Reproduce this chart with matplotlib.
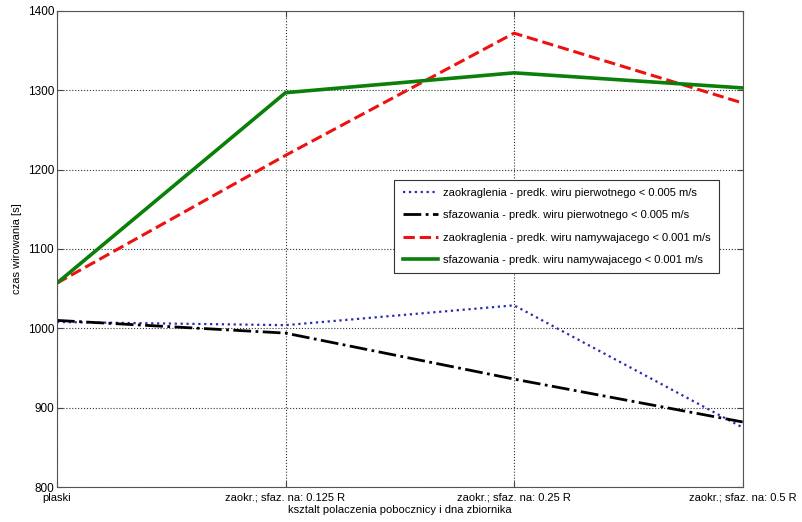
import matplotlib
matplotlib.use('Agg')
import matplotlib.pyplot as plt

# etykiety osi x i wartosci czasu wirowania [s]
shapes = ['plaski', 'zaokr.; sfaz. na: 0.125 R', 'zaokr.; sfaz. na: 0.25 R', 'zaokr.; sfaz. na: 0.5 R']
zaokr_pierwotny = [1008, 1004, 1029, 875]
sfaz_pierwotny = [1010, 994, 936, 882]
zaokr_namyw = [1057, 1218, 1372, 1284]
sfaz_namyw = [1057, 1297, 1322, 1303]

plt.rcParams['font.family'] = ['Liberation Sans', 'DejaVu Sans']
plt.rcParams['font.size'] = 8

fig = plt.figure(figsize=(8.02, 5.22), dpi=100)
ax = fig.add_axes([0.071, 0.067, 0.855, 0.912])

x = list(range(len(shapes)))
ax.plot(x, zaokr_pierwotny, color='#2a2ab0', linestyle=':', linewidth=1.6,
        label='zaokraglenia - predk. wiru pierwotnego < 0.005 m/s')
ax.plot(x, sfaz_pierwotny, color='black', linestyle='-.', linewidth=2.0,
        label='sfazowania - predk. wiru pierwotnego < 0.005 m/s')
ax.plot(x, zaokr_namyw, color='#ee1111', linestyle='--', linewidth=2.2,
        label='zaokraglenia - predk. wiru namywajacego < 0.001 m/s')
ax.plot(x, sfaz_namyw, color='#0a800a', linestyle='-', linewidth=2.6,
        label='sfazowania - predk. wiru namywajacego < 0.001 m/s')

ax.set_xlim(0, 3)
ax.set_ylim(800, 1400)
ax.set_xticks(x)
ax.set_xticklabels(shapes)
ax.set_yticks(range(800, 1401, 100))
ax.grid(True, linestyle=':', color='#333333', linewidth=0.8)
ax.tick_params(direction='in', length=4, top=True, right=True, colors='#444444',
               labelcolor='black')
ax.tick_params(axis='x', pad=4)
ax.tick_params(axis='y', pad=2, labelsize=8.5)
for s in ax.spines.values():
    s.set_color('#555555')

ax.set_xlabel('ksztalt polaczenia pobocznicy i dna zbiornika', labelpad=2)
ax.set_ylabel('czas wirowania [s]', labelpad=4)

leg = ax.legend(loc='upper left', bbox_to_anchor=(0.484, 0.657), fancybox=False,
                framealpha=1, edgecolor='#333333', handlelength=3.2,
                labelspacing=1.1, borderpad=0.75, handletextpad=0.4)
leg.get_frame().set_linewidth(0.8)

fig.savefig('out.png', dpi=100)
